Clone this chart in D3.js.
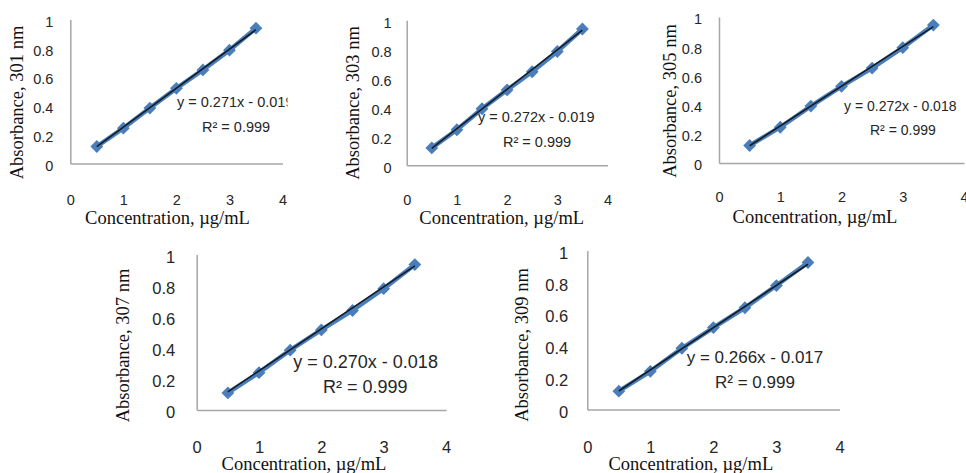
<!DOCTYPE html>
<html>
<head>
<meta charset="utf-8">
<script src="https://cdn.jsdelivr.net/npm/d3@7"></script>
<style>
  html, body { margin: 0; padding: 0; background: #fff; }
  svg { display: block; }
</style>
</head>
<body>
<svg id="chart" width="966" height="473"></svg>
<script>
// ---------- DATA ----------
const concentrations = [0.5, 1, 1.5, 2, 2.5, 3, 3.5];
const abs301 = [0.118, 0.245, 0.385, 0.522, 0.650, 0.787, 0.940];
const abs303 = [0.120, 0.245, 0.390, 0.520, 0.645, 0.785, 0.940];
const abs305 = [0.120, 0.245, 0.390, 0.525, 0.650, 0.790, 0.945];
const abs307 = [0.110, 0.240, 0.385, 0.515, 0.640, 0.780, 0.935];
const abs309 = [0.115, 0.240, 0.385, 0.515, 0.640, 0.780, 0.925];
const wavelengths = [301, 303, 305, 307, 309];
const slopes = [0.271, 0.272, 0.272, 0.270, 0.266];
const intercepts = [-0.019, -0.019, -0.018, -0.018, -0.017];
const r2Values = [0.999, 0.999, 0.999, 0.999, 0.999];
const xTicks = [0, 1, 2, 3, 4];
const yTicks = [0, 0.2, 0.4, 0.6, 0.8, 1];
const seriesList = [abs301, abs303, abs305, abs307, abs309];

// ---------- LAYOUT (pixel positions per panel) ----------
const panels = [
  { x0: 70.3, x4: 282.5, y0: 163.5, y1: 19.5, tickFont: 14.5, yPad: 17, xLabY: 200, xTitleX: 167.5, xTitleY: 218, yTitleX: 17, yTitleY: 102.5, eqX: 177, eqY: 102, r2X: 202, r2Y: 127, eqFont: 14.5, clipRight: 287.5 },
  { x0: 406.7, x4: 607.5, y0: 165.3, y1: 20.3, tickFont: 14.5, yPad: 15, xLabY: 200, xTitleX: 501.7, xTitleY: 218, yTitleX: 353, yTitleY: 103, eqX: 478, eqY: 116.7, r2X: 503, r2Y: 141.7, eqFont: 14.5, clipRight: null },
  { x0: 719, x4: 964, y0: 163, y1: 17, tickFont: 14.5, yPad: 17, xLabY: 196.7, xTitleX: 815, xTitleY: 216.7, yTitleX: 670, yTitleY: 101, eqX: 844, eqY: 106, r2X: 870, r2Y: 130, eqFont: 14, clipRight: null },
  { x0: 196.7, x4: 446, y0: 410, y1: 254.5, tickFont: 16.5, yPad: 21.5, xLabY: 446.7, xTitleX: 304, xTitleY: 464, yTitleX: 123, yTitleY: 345.5, eqX: 293.3, eqY: 361.7, r2X: 323, r2Y: 386.7, eqFont: 18, clipRight: null },
  { x0: 587.3, x4: 839.5, y0: 409.4, y1: 250.6, tickFont: 16.5, yPad: 19, xLabY: 446.7, xTitleX: 690.8, xTitleY: 464, yTitleX: 521.7, yTitleY: 345, eqX: 686.7, eqY: 356.7, r2X: 715, r2Y: 381.7, eqFont: 17, clipRight: null }
];

const svg = d3.select("#chart");
const sansFont = "'Liberation Sans', Arial, sans-serif";
const serifFont = "'Liberation Serif', 'Times New Roman', serif";
const tickColor = "#262626";
const axisColor = "#a6a6a6";
const markerColor = "#4a7ebb";

panels.forEach((p, i) => {
  const data = concentrations.map((c, j) => ({ x: c, y: seriesList[i][j] }));
  const x = d3.scaleLinear().domain([0, 4]).range([p.x0, p.x4]);
  const y = d3.scaleLinear().domain([0, 1]).range([p.y0, p.y1]);
  const g = svg.append("g");

  // y axis
  const ya = g.append("g")
    .attr("transform", `translate(${p.x0},0)`)
    .call(d3.axisLeft(y).tickValues(yTicks).tickSize(0).tickSizeOuter(0).tickPadding(p.yPad).tickFormat(d3.format("~g")));
  ya.select(".domain").attr("stroke", axisColor).attr("stroke-width", 1.5);
  ya.selectAll("text").attr("font-family", sansFont).attr("font-size", p.tickFont)
    .attr("fill", tickColor).attr("dy", "0.47em");

  // x axis
  const xa = g.append("g")
    .attr("transform", `translate(0,${p.y0})`)
    .call(d3.axisBottom(x).tickValues(xTicks).tickSize(0).tickSizeOuter(0).tickFormat(d3.format("d")));
  xa.select(".domain").attr("stroke", axisColor).attr("stroke-width", 1.5);
  xa.selectAll("text").attr("font-family", sansFont).attr("font-size", p.tickFont)
    .attr("fill", tickColor).attr("y", p.xLabY - p.y0).attr("dy", "0.36em");

  // titles
  g.append("text")
    .attr("x", p.xTitleX).attr("y", p.xTitleY).attr("dy", "0.35em")
    .attr("text-anchor", "middle").attr("font-family", serifFont).attr("font-size", 18.5)
    .attr("fill", "#111").text("Concentration, µg/mL");
  g.append("text")
    .attr("transform", `translate(${p.yTitleX},${p.yTitleY}) rotate(-90)`)
    .attr("dy", "0.35em")
    .attr("text-anchor", "middle").attr("font-family", serifFont).attr("font-size", 18.5)
    .attr("fill", "#111").text(`Absorbance, ${wavelengths[i]} nm`);

  // data line
  const line = d3.line().x(d => x(d.x)).y(d => y(d.y));
  g.append("path").datum(data).attr("d", line)
    .attr("fill", "none").attr("stroke", markerColor).attr("stroke-width", 4.5);

  // markers
  g.selectAll(".mk").data(data).join("path")
    .attr("class", "mk")
    .attr("d", d3.symbol(d3.symbolSquare, 82)())
    .attr("transform", d => `translate(${x(d.x)},${y(d.y)}) rotate(45)`)
    .attr("fill", markerColor);

  // trendline
  const xMin = d3.min(concentrations), xMax = d3.max(concentrations);
  const trend = [xMin, xMax].map(v => ({ x: v, y: slopes[i] * v + intercepts[i] }));
  g.append("path").datum(trend).attr("d", line)
    .attr("fill", "none").attr("stroke", "#141c24").attr("stroke-width", 1.6);

  // equation text (clipped in panel 1)
  let eg = g.append("g");
  if (p.clipRight) {
    const cid = "clip" + i;
    svg.append("clipPath").attr("id", cid).append("rect")
      .attr("x", 0).attr("y", 0).attr("width", p.clipRight).attr("height", 473);
    eg.attr("clip-path", `url(#${cid})`);
  }
  const sign = intercepts[i] < 0 ? "-" : "+";
  eg.append("text")
    .attr("x", p.eqX).attr("y", p.eqY).attr("dy", "0.36em")
    .attr("font-family", sansFont).attr("font-size", p.eqFont).attr("fill", tickColor)
    .text(`y = ${slopes[i].toFixed(3)}x ${sign} ${Math.abs(intercepts[i]).toFixed(3)}`);
  eg.append("text")
    .attr("x", p.r2X).attr("y", p.r2Y).attr("dy", "0.36em")
    .attr("font-family", sansFont).attr("font-size", p.eqFont).attr("fill", tickColor)
    .text(`R² = ${r2Values[i].toFixed(3)}`);
});
</script>
</body>
</html>
